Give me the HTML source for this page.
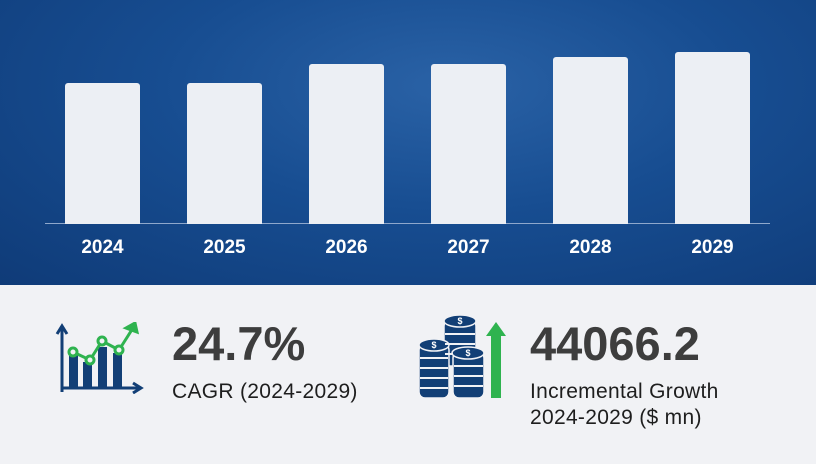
<!DOCTYPE html>
<html><head><style>
body{margin:0;width:816px;height:464px;overflow:hidden;font-family:"Liberation Sans",sans-serif;background:#f1f2f5}
.top{position:absolute;left:0;top:0;width:816px;height:285px;background:radial-gradient(ellipse at 55% 30%,#2a62a6 0%,#174d91 45%,#0f3b78 100%)}
.bar{position:absolute;width:75px;background:#eceff4;border-radius:3px 3px 0 0;bottom:61px}
.yr{position:absolute;top:237px;width:75px;text-align:center;color:#fff;font-weight:bold;font-size:19px}
.big{position:absolute;font-weight:bold;font-size:47px;color:#3d3d3d;line-height:1}
.sm{position:absolute;font-size:21px;color:#1e1e1e;line-height:26px;letter-spacing:0.3px}
</style></head><body>
<div class="top">
<div style="position:absolute;left:45px;top:223px;width:725px;height:1px;background:#8fa8cc"></div>
<div class="bar" style="left:65px;top:83px;height:141px"></div>
<div class="bar" style="left:187px;top:83px;height:141px"></div>
<div class="bar" style="left:309px;top:64px;height:160px"></div>
<div class="bar" style="left:431px;top:64px;height:160px"></div>
<div class="bar" style="left:553px;top:57px;height:167px"></div>
<div class="bar" style="left:675px;top:52px;height:172px"></div>
<div class="yr" style="left:65px">2024</div>
<div class="yr" style="left:187px">2025</div>
<div class="yr" style="left:309px">2026</div>
<div class="yr" style="left:431px">2027</div>
<div class="yr" style="left:553px">2028</div>
<div class="yr" style="left:675px">2029</div>
</div>
<svg style="position:absolute;left:55px;top:322px" width="92" height="72" viewBox="0 0 92 72">
<g fill="#123f76" stroke="#123f76">
<path d="M7 70V5M2 12L7 4L12 12" stroke-width="3" fill="none"/>
<path d="M6 66H85M78 61L86 66L78 71" stroke-width="3" fill="none"/>
<rect x="14" y="33" width="9" height="33" stroke="none"/>
<rect x="28" y="40" width="9" height="26" stroke="none"/>
<rect x="43" y="25" width="9" height="41" stroke="none"/>
<rect x="58" y="31" width="9" height="35" stroke="none"/>
</g>
<g stroke="#2fb34f" stroke-width="3" fill="#f1f2f5">
<polyline points="18,30 35,38 47,19 64,28 78,6" fill="none"/>
<circle cx="18" cy="30" r="4"/><circle cx="35" cy="38" r="4"/><circle cx="47" cy="19" r="4"/><circle cx="64" cy="28" r="4"/>
<path d="M71 6L80 1L82 10Z" fill="#2fb34f"/>
</g></svg>
<div class="big" style="left:172px;top:320px">24.7%</div>
<div class="sm" style="left:172px;top:379px">CAGR (2024-2029)</div>
<svg style="position:absolute;left:418px;top:314px" width="92" height="86" viewBox="0 0 92 86">
<g fill="#123f76" stroke="#f1f2f5" stroke-width="1.5">
<rect x="26" y="6" width="32" height="46" rx="6"/>
<ellipse cx="42" cy="7" rx="16" ry="6"/>
<rect x="1" y="30" width="30" height="54" rx="6"/>
<ellipse cx="16" cy="31" rx="15" ry="6"/>
<rect x="35" y="38" width="31" height="46" rx="6"/>
<ellipse cx="50" cy="39" rx="16" ry="6"/>
</g>
<g stroke="#f1f2f5" stroke-width="2">
<path d="M27 20H57M27 30H57M27 40H35"/>
<path d="M2 44H30M2 54H30M2 64H30M2 74H30"/>
<path d="M36 52H65M36 62H65M36 72H65"/>
</g>
<g fill="#fff" font-size="9" font-weight="bold" text-anchor="middle" font-family="Liberation Sans"><text x="42" y="10">$</text><text x="16" y="34">$</text><text x="50" y="42">$</text></g>
<path d="M73 84V22H68L78 8L88 22H83V84Z" fill="#2fb34f"/>
</svg>
<div class="big" style="left:530px;top:320px">44066.2</div>
<div class="sm" style="left:530px;top:379px">Incremental Growth<br>2024-2029 ($ mn)</div>
</body></html>
